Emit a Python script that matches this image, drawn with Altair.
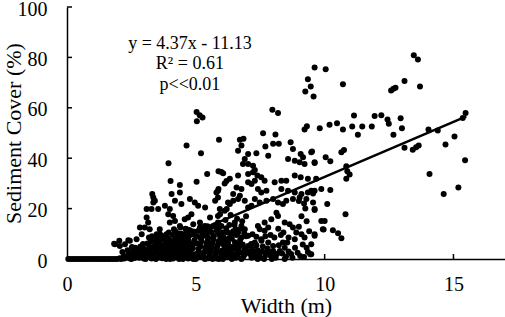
import altair as alt
import pandas as pd

# ---------------- data ----------------
zero_row = [(0.05,0),(0.15,0),(0.25,0),(0.35,0),(0.45,0),(0.55,0),(0.65,0),(0.75,0),(0.85,0),(0.95,0),
            (1.05,0),(1.15,0),(1.25,0),(1.35,0),(1.45,0),(1.55,0),(1.65,0),(1.75,0),(1.85,0),(1.95,0)]

dense_low = [
    (2.1,0),(2.2,1),(2.3,0.5),(2.4,2),(2.5,0),(2.6,1.5),(2.7,3),(2.8,0.5),(2.9,2.5),(3.0,4),(2.35,3.5),(2.65,4.5),
    (2.95,6),(2.15,2.8),(2.55,0.8),(2.75,1.2),(2.85,5),(2.45,0.2),(2.05,0.3),
    (3.05,0),(3.1,1.5),(3.15,3),(3.2,5),(3.25,7),(3.3,0.5),(3.35,2),(3.4,4),(3.45,6),(3.5,8),(3.55,1),(3.6,3),
    (3.65,5.5),(3.7,0.3),(3.75,2.5),(3.8,4.5),(3.85,7),(3.9,1.2),(3.95,3.5),(3.3,9),(3.6,10),(3.75,8.5),(3.45,0),
    (3.85,0),(3.2,1.8),(3.5,2.8),(3.9,6),
    (4.0,0),(4.05,2),(4.1,4),(4.15,6),(4.2,8),(4.25,1),(4.3,3),(4.35,5),(4.4,7),(4.45,10),(4.5,0.5),(4.55,2.5),
    (4.6,4.5),(4.65,6.5),(4.7,8.5),(4.75,1.5),(4.8,3.5),(4.85,5.5),(4.9,0),(4.95,7.5),(4.2,11),(4.6,12),(4.1,9.5),
    (4.5,0),(4.7,0.2),(4.35,0),(4.85,11),(4.05,5.3),(4.25,7.2),(4.55,9),
    (5.0,0),(5.05,2),(5.1,4),(5.15,6),(5.2,8),(5.25,10),(5.3,1),(5.35,3),(5.4,5),(5.45,7),(5.5,0.3),(5.55,2.5),
    (5.6,4.5),(5.65,6.5),(5.7,9),(5.75,1.5),(5.8,3.5),(5.85,5.5),(5.9,0),(5.95,8),(5.2,12),(5.5,11),(5.8,11.5),
    (5.35,0),(5.65,0),(5.05,9),(5.45,13),(5.75,13.5),(5.25,0.8),(5.95,2.7),
    (6.05,0),(6.1,2),(6.15,4),(6.2,6.5),(6.3,1),(6.35,3),(6.4,8),(6.45,11),(6.55,0.5),(6.6,2.5),(6.7,6),(6.75,12),
    (6.85,1),(6.9,4),(6.95,9),(6.5,13.5),(6.25,10.5),(6.8,15),(6.6,16),(6.35,17.5),(6.15,15.5),(6.95,17),
    (7.1,2),(7.2,4),(7.3,1),(7.4,3.5),(7.5,0.5),(7.6,5),(7.7,1.5),(7.85,3),(7.95,0),(8.05,8.5),(8.15,2),(8.3,9.5),
    (8.5,1),(8.6,3),(8.75,0.5),(8.95,2.5),(9.2,0.8),(9.3,4.5),(7.35,8.8),(7.55,7.2),(7.9,9.5),(8.4,10.5),
]

dense_fill = [
    (2.32,1.2),(2.48,2.6),(2.62,0.4),(2.78,3.8),(2.88,1.6),(2.98,0.2),(2.52,4.8),(2.68,2.2),(2.92,4.2),(2.22,0.2),
    (2.58,3.1),(2.82,2.9),
    (3.08,2.4),(3.12,6.2),(3.22,3.8),(3.28,0.2),(3.38,5.2),(3.42,7.4),(3.52,4.6),(3.58,6.8),(3.62,1.8),(3.68,3.9),
    (3.72,7.6),(3.78,0.9),(3.82,5.8),(3.88,2.9),(3.92,8.2),(3.98,4.8),(3.18,8.5),(3.48,9.8),(3.68,9.2),(3.95,10.5),
    (3.12,0.8),(3.58,0.6),
    (4.02,7.2),(4.08,1),(4.12,3.1),(4.18,4.9),(4.22,2.2),(4.28,5.8),(4.32,8.8),(4.38,1.8),(4.42,4),(4.48,6),(4.52,8),
    (4.58,1.2),(4.62,3.2),(4.68,5.3),(4.72,7.2),(4.78,9.5),(4.82,2.2),(4.88,4.3),(4.92,6.4),(4.98,1.9),(4.15,11.8),
    (4.4,12.5),(4.75,11.5),(4.95,10.8),(4.3,10.2),(4.62,10),(4.12,0.2),(4.82,0.4),
    (5.02,6.2),(5.08,1),(5.12,3),(5.18,5),(5.22,7),(5.28,2.1),(5.32,9.2),(5.38,4.2),(5.42,6.1),(5.48,8.4),(5.52,1.6),
    (5.58,3.6),(5.62,5.6),(5.68,7.8),(5.72,0.6),(5.78,2.6),(5.82,4.6),(5.88,6.9),(5.92,9.6),(5.98,1.2),(5.1,11.2),
    (5.35,11.5),(5.62,10.4),(5.9,12.3),(5.4,0.2),(5.8,0.2),
    (6.02,3.4),(6.08,5.8),(6.12,7.6),(6.18,1.2),(6.22,3.8),(6.28,8.2),(6.32,5),(6.42,2),(6.48,4.2),(6.52,6.6),
    (6.58,9.5),(6.62,1.2),(6.68,4.8),(6.72,7.5),(6.78,2.6),(6.82,5.8),(6.88,10.2),(6.18,12.2),(6.4,0),(6.05,10.5),
    (6.55,11.8),(6.3,13.5),
    (7.05,3),(7.15,6),(7.25,2.5),(7.35,5.5),(7.45,1.8),(7.58,3),(7.65,0),(7.78,4.2),(7.88,1.5),(8.0,3.2),(8.1,0.5),
    (8.22,5.5),(8.35,2.2),(8.45,0),(8.55,6.5),(8.7,2),(8.85,4.5),(9.05,1.2),(9.15,5.8),(9.35,2.8),(7.2,9.8),(7.7,9),
    (8.2,12),(8.6,8.5),(9.0,12.8),(9.4,11),(8.0,1.5),(7.4,0),
]

left_scatter = [
    (5.03,58.3),(5.15,57),(5.04,54.7),(5.26,56.2),(4.64,45),(5.9,47.3),(5.2,42),(3.94,38),(5.44,33.7),(5.03,30.7),
    (4.02,31),(4.38,29.4),(3.31,25.8),(3.35,24.4),(3.41,23.1),(3.35,22.4),(5.88,34.8),(5.99,34.5),(5.88,27.8),
    (6.19,31),(6.32,31.8),(4.06,25.8),(4.38,26.4),(4.19,23.1),(4.44,21.8),(4.77,23.8),(4.96,22.4),(5.09,21.1),
    (5.8,26.4),(3.09,19.8),(3.28,19.8),(3.54,19.8),(3.8,21.1),(3.99,19.8),(3.93,17.8),(4.12,17.1),(4.19,15.1),
    (3.99,14.5),(3.09,16.5),(3.15,14.5),(3.02,12.5),(3.21,11.8),(4.57,15.8),(4.7,16.5),(4.83,17.8),(4.38,13.1),
    (4.64,11.8),(4.9,13.8),(5.16,14.5),(5.35,13.1),(5.54,11.8),(5.67,13.1),(5.86,14.5),(2.83,12.5),(2.9,9.8),
    (2.7,7.8),(2.44,7.2),(2.25,5.9),(1.86,5.9),(2.05,5.2),(1.83,6.1),(2.03,7.2),(2.38,7.4),(3.6,11.8),(3.86,9.8),
    (4.25,9.2),(4.9,9.8),(5.41,9.8),(5.36,20.4),(5.75,23.1),(5.94,17.8),(6.2,19.8),(5.55,16.5),(5.16,12.5),
    (6.58,28.4),(6.45,25.8),(6.32,21.8),
]

mid_scatter = [
    (7.61,49.9),(8.09,49.4),(6.71,47.3),(6.85,47.7),(6.77,45),(6.64,43),(7.7,44.6),(8.0,45.7),(8.22,45.7),
    (8.68,46.3),(8.77,43.7),(7.03,41.7),(7.35,42),(7.81,41),(9.07,41.7),(9.51,42.7),(8.58,39.7),(8.84,39),
    (9.03,38.4),(9.22,37.7),(9.16,40.4),(9.61,38.4),(6.9,39.7),(6.83,37.7),(7.03,37.7),(7.22,37),(7.22,34.4),
    (7.29,35.3),(7.39,33.1),(7.54,32.4),(7.67,31.1),(7.03,33.7),(6.64,33.1),(6.06,34),(6.12,30),(7.03,30.5),
    (7.16,29.8),(7.29,31.1),(8.06,30.5),(8.32,31.1),(8.51,31.1),(8.84,33.1),(9.07,32.4),(9.35,31.8),(9.61,27.1),
    (9.87,27.8),(7.41,27.8),(7.54,26.4),(7.74,27.1),(8.32,27.8),(8.58,27.1),(8.84,26.4),(9.1,25.8),(9.35,26.4),
    (6.77,27.8),(6.71,25.1),(5.86,27.1),(5.86,24.4),
    (5.93,19.8),(6.12,19.1),(6.25,22.4),(6.45,23.1),(6.64,23.8),(6.9,23.1),(7.03,20.4),(7.16,21.1),(7.29,23.8),
    (7.48,22.4),(7.74,23.1),(8.0,23.8),(8.19,22.4),(8.38,21.8),(8.51,23.1),(8.77,23.8),(9.03,24.4),(9.29,23.8),
    (9.55,22.4),(9.61,19.8),(8.13,18.4),(8.19,17.1),(7.93,15.8),(7.67,14.5),(7.41,13.1),(7.48,11.8),(7.67,11.2),
    (7.81,12.5),(8.45,14.5),(8.64,13.8),(8.77,12.5),(8.9,10.5),(9.1,9.8),(9.22,8.5),(8.84,7.8),(8.38,6.5),
    (8.45,4.5),(8.26,3.2),(9.61,9.8),(9.87,15.1),(9.93,11.8),(9.48,1.9),(6.51,14.5),(6.77,13.1),(6.9,11.8),
    (6.64,10.5),(6.38,9.2),(6.77,8.5),(7.03,9.2),(7.29,6.5),(7.03,5.2),(6.51,5.2),(6.25,2.5),(6.64,3.9),(6.9,1.9),
    (7.16,0.5),(6.38,0.5),(6.77,0),(7.54,7.8),(7.81,6.5),(8.0,5.2),(7.74,2.5),(5.86,17.1),(5.99,13.1),(5.86,10.5),
    (6.06,9.2),(5.93,6.5),(6.12,5.2),(5.99,2.5),(6.25,6.5),(9.0,23),(9.2,22),(9.1,17),(9.3,15),(9.25,20),
]

right_scatter = [
    (9.61,76.0),(10.04,75.3),(9.35,71.3),(9.46,68.5),(9.25,66.5),(9.57,64.5),(10.71,69.3),(13.46,80.9),(13.62,79.2),
    (13.1,70.6),(13.7,68.5),(12.58,66.9),(12.67,67.6),(12.75,68.0),(7.97,59.2),(8.19,57.9),(15.47,57.9),(15.36,56),
    (11.14,56.9),(11.94,56.7),(12.2,57),(12.44,55.4),(12.49,53.7),(12.95,55.9),(13.0,51.9),(10.48,53.9),(10.19,53.3),
    (9.81,51.9),(9.31,52.7),(9.22,51.4),(10.71,51.4),(11.07,52.6),(11.46,52.6),(11.83,52.6),(11.29,49.3),(12.67,49.3),
    (14.03,51.4),(14.39,51.0),(15.04,48.6),(14.69,45.4),(13.1,44.1),(13.42,43.4),(13.55,44.3),(13.65,45.0),
    (15.45,39.2),(14.07,33.7),(15.19,28.4),(14.62,25.8),(10.65,42.4),(10.75,43.3),(10.04,40.4),(10.22,38.8),
    (9.48,42.4),(9.61,38.1),(10.84,36.8),(10.88,34.8),(10.97,33.5),(10.84,31.8),(9.67,31.8),(10.22,27.4),
    (10.1,21.8),(10.81,17.8),(10.0,15.1),(9.96,11.7),(10.32,11.4),(10.52,10.2),(10.65,8.2),(9.61,19.4),
    (9.55,26),(9.48,27.1),(9.61,9.2),(9.48,5.9),(9.44,1.9),
]

x_ticks = [0, 5, 10, 15]
y_ticks = [0, 20, 40, 60, 80, 100]
slope, intercept = 4.37, -11.13
fit_x = [2.55, 15.5]
notes = ["y = 4.37x - 11.13", "R² = 0.61", "p<<0.01"]
note_y = [83.2, 75.5, 67.0]
note_x = 4.77

# ---------------- chart ----------------
pts = pd.DataFrame(zero_row + dense_low + dense_fill + left_scatter + mid_scatter + right_scatter,
                   columns=["width", "cover"])
fit = pd.DataFrame({"width": fit_x, "cover": [slope * v + intercept for v in fit_x]})
ann = pd.DataFrame({"text": notes, "width": [note_x] * 3, "cover": note_y})
xt = pd.DataFrame({"t": [v for v in x_ticks if v > 0]})
yt = pd.DataFrame({"t": [v for v in y_ticks if v > 0]})

FONT = "Liberation Serif"
xscale = alt.Scale(domain=[0, 17], nice=False, zero=False)
yscale = alt.Scale(domain=[0, 100], nice=False)

xaxis = alt.Axis(values=x_ticks, ticks=False, grid=False, labelFontSize=20, labelFont=FONT,
                 labelColor="black", labelPadding=15, title="Width (m)", titleFont=FONT,
                 titleFontSize=22, titleFontWeight="normal", titleColor="black",
                 titleY=53, titleBaseline="alphabetic", domainColor="black", domainWidth=1.5,
                 labelFlush=False)
yaxis = alt.Axis(values=y_ticks, ticks=False, grid=False, labelFontSize=20, labelFont=FONT,
                 labelColor="black", labelPadding=20, labelOffset=2, title="Sediment Cover (%)",
                 titleFont=FONT, titleFontSize=22, titleFontWeight="normal", titleColor="black",
                 titleX=-47, titleBaseline="alphabetic", domainColor="black", domainWidth=1.5,
                 labelFlush=False)

scatter = alt.Chart(pts).mark_circle(size=36, color="black", opacity=1).encode(
    x=alt.X("width:Q", scale=xscale, axis=xaxis),
    y=alt.Y("cover:Q", scale=yscale, axis=yaxis),
)
line = alt.Chart(fit).mark_line(color="black", strokeWidth=2.5).encode(
    x=alt.X("width:Q", scale=xscale), y=alt.Y("cover:Q", scale=yscale))
text = alt.Chart(ann).mark_text(font=FONT, fontSize=18, color="black", align="center",
                                baseline="alphabetic").encode(
    x=alt.X("width:Q", scale=xscale), y=alt.Y("cover:Q", scale=yscale), text="text:N")
xtick = alt.Chart(xt).mark_rule(color="black", strokeWidth=1.5).encode(
    x=alt.X("t:Q", scale=xscale), y=alt.value(252), y2=alt.value(247))
ytick = alt.Chart(yt).mark_rule(color="black", strokeWidth=1.5).encode(
    y=alt.Y("t:Q", scale=yscale), x=alt.value(0), x2=alt.value(5))

chart = alt.layer(scatter, line, text, xtick, ytick).properties(
    width=438, height=252,
    padding={"left": 67, "top": 7, "right": 0, "bottom": 58},
    autosize="none",
    background="white",
).configure_view(stroke=None).configure_axis(
    labelFont=FONT, titleFont=FONT, labelColor="black", titleColor="black"
)

chart.save("out.html", embed_options={"renderer": "svg", "actions": False})
